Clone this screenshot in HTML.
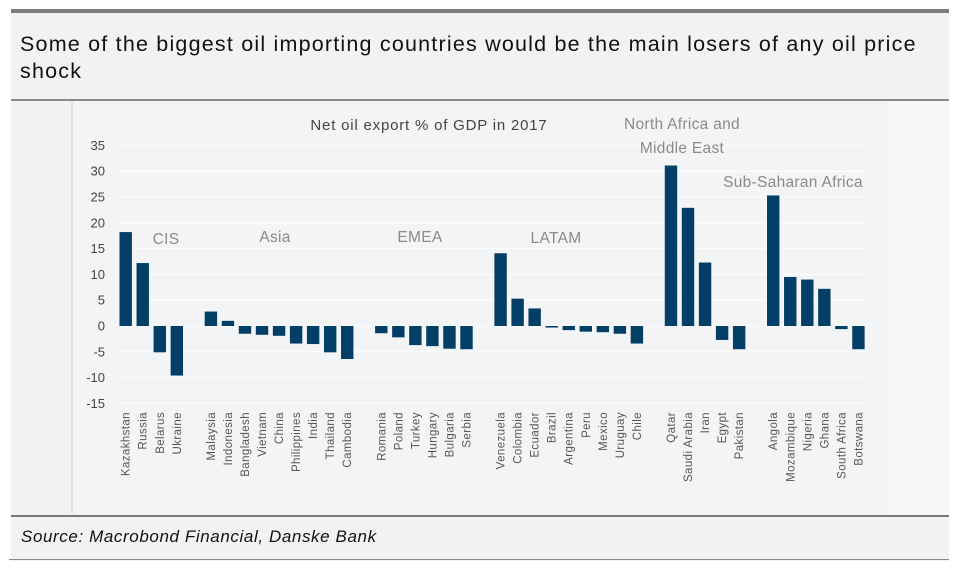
<!DOCTYPE html>
<html><head><meta charset="utf-8">
<style>
body{margin:0;width:959px;height:572px;background:#fff;font-family:"Liberation Sans",sans-serif;position:relative;overflow:hidden}
#box{position:absolute;left:11px;top:9px;width:938px;height:552px;background:#f1f2f4;border-top:4px solid #7f7c7c;box-sizing:border-box}
#title{position:absolute;left:20px;top:31px;font-size:21.5px;letter-spacing:1.2px;line-height:27px;color:#111;width:925px}
#l1{position:absolute;left:11px;top:99px;width:938px;height:2px;background:#8a8888}
#panel{position:absolute;left:71px;top:101px;width:817px;height:413px;background:#f3f4f6;border-left:2px solid #e2e3e5;box-sizing:border-box}
#rightp{position:absolute;left:888px;top:101px;width:61px;height:413px;background:#f6f7f8}
#l2{position:absolute;left:11px;top:515px;width:938px;height:2px;background:#7a7878}
#src{position:absolute;left:21px;top:527px;font-size:17px;letter-spacing:0.6px;font-style:italic;color:#111}
#l3{position:absolute;left:9px;top:559px;width:940px;height:1px;background:#888}
svg{position:absolute;left:0;top:0}
</style></head><body>
<div id="box"></div>
<div id="title">Some of the biggest oil importing countries would be the main losers of any oil price shock</div>
<div id="l1"></div>
<div id="panel"></div>
<div id="rightp"></div>
<div id="l2"></div>
<div id="src">Source: Macrobond Financial, Danske Bank</div>
<div id="l3"></div>
<svg id="chart" width="959" height="572"></svg>
<script>
const countries=["Kazakhstan","Russia","Belarus","Ukraine",null,"Malaysia","Indonesia","Bangladesh","Vietnam","China","Philippines","India","Thailand","Cambodia",null,"Romania","Poland","Turkey","Hungary","Bulgaria","Serbia",null,"Venezuela","Colombia","Ecuador","Brazil","Argentina","Peru","Mexico","Uruguay","Chile",null,"Qatar","Saudi Arabia","Iran","Egypt","Pakistan",null,"Angola","Mozambique","Nigeria","Ghana","South Africa","Botswana"];
const values=[18.2,12.2,-5.1,-9.6,null,2.8,1.0,-1.5,-1.7,-1.9,-3.4,-3.5,-5.1,-6.4,null,-1.4,-2.2,-3.7,-3.9,-4.4,-4.5,null,14.1,5.3,3.4,-0.3,-0.8,-1.1,-1.2,-1.5,-3.4,null,31.1,22.9,12.3,-2.7,-4.5,null,25.3,9.5,9.0,7.2,-0.6,-4.5];
const yTicks=[35,30,25,20,15,10,5,0,-5,-10,-15];
const groups=[["CIS",166,244],["Asia",275,242],["EMEA",420,242],["LATAM",556,243]];
const NS="http://www.w3.org/2000/svg";
const svg=document.getElementById('chart');
const y=v=>326-v*5.16;
const x=i=>125.7+i*17.04;
function mk(t,a){const e=document.createElementNS(NS,t);for(const k in a)e.setAttribute(k,a[k]);svg.appendChild(e);return e;}
yTicks.forEach(t=>{
  const g=mk('line',{x1:117,x2:868,y1:y(t),y2:y(t),stroke:'#fbfcfd','stroke-width':1.3});
  
  
  const l=mk('text',{x:105,y:y(t)+4.5,'text-anchor':'end','font-size':13,fill:'#444'});
  l.textContent=t;
  
  
});
countries.forEach((c,i)=>{
  if(c===null)return;
  const v=values[i];
  const b=mk('rect',{x:x(i)-6.2,width:12.4,y:Math.min(y(v),y(0)),height:Math.max(Math.abs(y(v)-y(0)),1),fill:'#023e66'});
  
  
  const t=mk('text',{x:x(i)+4,y:412,'text-anchor':'end','font-size':11.5,'letter-spacing':0.4,fill:'#555',transform:`rotate(-90 ${x(i)+4} 412)`});
  t.textContent=c;
  
  
});
function lbl(s,cx,cy,sz,col,name,ls){const t=mk('text',{x:cx,y:cy,'text-anchor':'middle','font-size':sz,fill:col,'letter-spacing':ls||0});t.textContent=s;}
lbl("Net oil export % of GDP in 2017",429,130,15,'#444','chart-subtitle',0.8);
groups.forEach(g=>lbl(g[0],g[1],g[2],15.5,'#8a8a8a','group-label',0.3));
lbl("North Africa and",682,129,15.5,'#8a8a8a','group-label',0.3);
lbl("Middle East",682,153,15.5,'#8a8a8a','group-label',0.3);
lbl("Sub-Saharan Africa",793,187,15.5,'#8a8a8a','group-label',0.3);
</script>
</body></html>
